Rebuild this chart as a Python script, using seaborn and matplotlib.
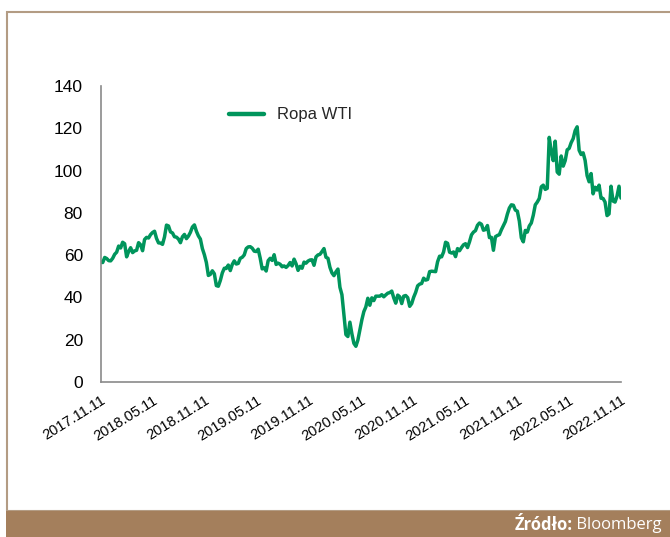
import matplotlib
matplotlib.use("Agg")
import matplotlib.pyplot as plt
import matplotlib.transforms as mtrans
from matplotlib.patches import Rectangle
from matplotlib.lines import Line2D
import pandas as pd
import seaborn as sns

# ---- data (weekly WTI closes) ----
start_date = "2017-11-10"
wti = [
    # 2017 Nov-Dec
    56.7, 56.5, 58.9, 58.4, 57.4, 57.3, 58.5, 60.4,
    # 2018
    61.4, 64.3, 63.4, 66.1, 65.4, 59.2, 61.7, 63.5, 61.2, 62.0, 62.3, 65.9, 64.9,
    62.1, 67.4, 68.4, 68.1, 69.7, 70.7, 71.3, 67.9, 65.8, 65.7, 65.1, 68.6, 74.2,
    73.8, 71.0, 70.5, 68.7, 68.5, 67.6, 65.9, 68.7, 69.8, 67.8, 69.0, 70.8, 73.3,
    74.3, 71.3, 69.1, 67.6, 63.1, 60.2, 56.5, 50.4, 50.9, 52.6, 51.2, 45.6, 45.3,
    # 2019
    48.0, 51.6, 53.8, 53.7, 55.3, 52.7, 55.6, 57.3, 55.8, 56.1, 58.5, 59.0, 60.1,
    63.1, 63.9, 64.0, 63.3, 61.9, 61.7, 62.8, 58.6, 53.5, 54.0, 52.5, 57.4, 58.5,
    57.5, 60.2, 55.6, 56.2, 55.7, 54.5, 54.9, 54.2, 55.1, 56.5, 54.9, 58.1, 55.9,
    52.8, 54.7, 53.8, 56.7, 56.2, 57.2, 57.7, 57.8, 55.2, 59.2, 60.1, 60.4, 61.7,
    # 2020
    63.1, 59.0, 58.5, 54.2, 51.6, 50.3, 52.1, 53.4, 44.8, 41.3, 31.7, 22.4, 21.5,
    28.3, 22.8, 18.3, 16.9, 19.8, 24.7, 29.4, 33.3, 35.5, 39.6, 36.3, 39.8, 38.5,
    40.6, 40.6, 40.6, 41.3, 40.3, 41.2, 42.0, 42.3, 43.0, 39.8, 37.3, 41.1, 40.3,
    37.1, 40.6, 40.9, 39.9, 35.8, 37.1, 40.1, 42.4, 45.5, 46.3, 46.6, 49.1, 48.2,
    # 2021
    48.5, 52.2, 52.4, 52.3, 52.2, 56.9, 59.5, 59.2, 61.5, 66.1, 65.6, 61.4, 61.0,
    61.5, 59.3, 63.1, 62.1, 63.6, 64.9, 65.4, 63.6, 66.3, 69.6, 70.9, 71.6, 74.1,
    75.2, 74.6, 71.8, 72.1, 74.0, 68.3, 68.4, 62.3, 68.7, 69.3, 69.7, 72.0, 74.0,
    75.9, 79.4, 82.3, 83.8, 83.6, 81.3, 80.8, 76.1, 68.2, 66.3, 71.7, 70.9, 73.8, 75.2,
    # 2022
    78.9, 83.8, 85.1, 86.8, 92.3, 93.1, 91.1, 91.6, 115.7, 109.3, 104.7, 113.9, 99.3,
    98.3, 106.9, 102.1, 104.7, 109.8, 110.5, 113.2, 115.1, 118.9, 120.7, 109.6, 107.6,
    108.4, 104.8, 97.6, 94.7, 98.6, 89.0, 92.1, 90.8, 93.1, 86.9, 86.8, 85.1, 78.7,
    79.5, 92.6, 85.6, 85.1, 87.9, 92.6, 87.0,
]
series_name = "Ropa WTI"
tick_dates = ["2017.11.11", "2018.05.11", "2018.11.11", "2019.05.11", "2019.11.11",
              "2020.05.11", "2020.11.11", "2021.05.11", "2021.11.11", "2022.05.11",
              "2022.11.11"]
y_ticks = [0, 20, 40, 60, 80, 100, 120, 140]
source_bold = "Źródło:"
source_text = " Bloomberg"

df = pd.DataFrame({
    "date": pd.date_range(start_date, periods=len(wti), freq="7D"),
    "value": wti,
})

GREEN = "#00955c"
AXIS = "#8a8a8a"
FONT = ["Liberation Sans", "DejaVu Sans"]

sns.set_style("white")
plt.rcParams["font.family"] = FONT

fig = plt.figure(figsize=(6.70, 5.37), dpi=100)
ax = fig.add_axes([101 / 670, 1 - 382 / 537, 520 / 670, 296 / 537])

sns.lineplot(data=df, x="date", y="value", ax=ax, color=GREEN, linewidth=2.5,
             legend=False)

tick_pos = pd.to_datetime(tick_dates, format="%Y.%m.%d")
ax.set_xlim(tick_pos[0], tick_pos[-1])
ax.set_ylim(0, 140)
ax.set_xticks(tick_pos)
ax.set_xticklabels(tick_dates, rotation=32, ha="right", rotation_mode="anchor",
                   fontsize=10.5, color="#000000")
shift = mtrans.ScaledTranslation(6 / 100, 0, fig.dpi_scale_trans)
for lbl in ax.get_xticklabels():
    lbl.set_transform(lbl.get_transform() + shift)
ax.set_yticks(y_ticks)
ax.set_yticklabels([str(v) for v in y_ticks], fontsize=12.5, color="#000000")
ax.set_xlabel("")
ax.set_ylabel("")

for s in ["top", "right"]:
    ax.spines[s].set_visible(False)
for s in ["left", "bottom"]:
    ax.spines[s].set_color(AXIS)
    ax.spines[s].set_linewidth(1.2)
ax.tick_params(axis="both", direction="out", length=5, width=1.2, color=AXIS)
ax.tick_params(axis="y", pad=8)
ax.tick_params(axis="x", pad=3)
ax.grid(False)

handle = Line2D([], [], color=GREEN, linewidth=3.2, solid_capstyle="round")
leg = ax.legend([handle], [series_name], loc="center left",
                bbox_to_anchor=((229 - 101) / 520, (382 - 115) / 296),
                frameon=False, fontsize=12, handlelength=2.1,
                handletextpad=0.8, borderpad=0, borderaxespad=0)

# frame around the chart
fig.patches.append(Rectangle((7 / 670, 26 / 537), 2, 1 - 12 / 537 - 26 / 537,
                             transform=fig.transFigure, fill=False,
                             edgecolor="#b39c84", linewidth=1.5, zorder=0))
# bottom banner
fig.patches.append(Rectangle((6 / 670, 0), 1, 26 / 537, transform=fig.transFigure,
                             facecolor="#a47f5c", edgecolor="none", zorder=1))
t2 = fig.text(662 / 670, 12 / 537, source_text, color="white", fontsize=12,
              ha="right", va="center", family=["Open Sans", "DejaVu Sans"])
fig.canvas.draw()
bb = t2.get_window_extent()
x0 = bb.x0 / fig.bbox.width
fig.text(x0, 12 / 537, source_bold, color="white", fontsize=12, fontweight="bold",
         ha="right", va="center", family=["Open Sans", "DejaVu Sans"])

fig.savefig("out.png", dpi=100)
